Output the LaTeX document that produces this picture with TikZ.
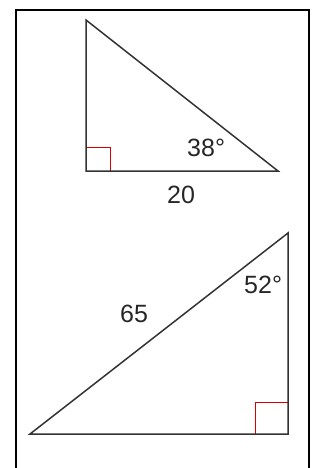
\documentclass[tikz,border=0pt]{standalone}
\usepackage{fontspec}
\setmainfont{Liberation Sans}
\begin{document}
\begin{tikzpicture}[x=1pt,y=-1pt,
  side/.style={draw=black!80,line width=1.5pt,line join=miter},
  rightmark/.style={draw=red!85!black,line width=1pt},
  lbl/.style={inner sep=0pt,anchor=base west,font=\fontsize{25}{30}\selectfont,text=black!85}]
\useasboundingbox (0,0) rectangle (320,468);
\draw[line width=2pt] (16,480) -- (16,10) -- (309,10) -- (309,480);
% top triangle
\coordinate (A) at (86,20);
\coordinate (B) at (86,171);
\coordinate (C) at (278,171);
\draw[rightmark] (86,147) -- (110,147) -- (110,171);
\draw[side] (A) -- (B) -- (C) -- cycle;
\node[lbl] (a38) at (187,156) {38°};
\node[lbl] (a20) at (167,203) {20};
% bottom triangle
\coordinate (D) at (30,434);
\coordinate (E) at (288,233);
\coordinate (F) at (288,434);
\draw[rightmark] (255,434) -- (255,402) -- (288,402);
\draw[side] (D) -- (E) -- (F) -- cycle;
\node[lbl] (a52) at (244,293) {52°};
\node[lbl] (a65) at (120,322) {65};
\end{tikzpicture}
\end{document}
